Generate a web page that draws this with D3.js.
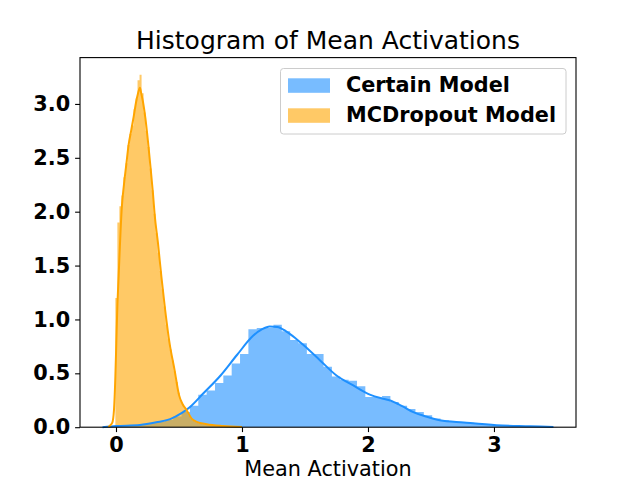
<!DOCTYPE html>
<html>
<head>
<meta charset="utf-8">
<script src="https://cdn.jsdelivr.net/npm/d3@7"></script>
<style>
  body { margin: 0; background: #fff; }
  svg text { font-family: "DejaVu Sans", sans-serif; }
</style>
</head>
<body>
<svg id="chart" width="640" height="480"></svg>
<script>
// histogram of "Certain Model" (bin start, bin width, density per bin)
const certainStart = -0.01;
const certainWidth = 0.0663;
const certainHist = [
  0.01, 0.015, 0.02, 0.03, 0.04, 0.05, 0.07, 0.10, 0.14, 0.20,
  0.30, 0.34, 0.41, 0.48, 0.59, 0.68, 0.91, 0.92, 0.92, 0.95,
  0.89, 0.81, 0.78, 0.68, 0.68, 0.56, 0.47, 0.44, 0.43, 0.38,
  0.28, 0.28, 0.29, 0.235, 0.20, 0.17, 0.14, 0.11, 0.08, 0.065,
  0.055, 0.048, 0.042, 0.035, 0.028, 0.02, 0.017, 0.013, 0.01, 0.008,
  0.006, 0.004, 0.003
];

// histogram of "MCDropout Model"
const dropoutStart = -0.005;
const dropoutWidth = 0.016;
const dropoutHist = [
  1.20, 1.90, 2.05, 2.15, 2.32, 2.45, 2.62, 2.72, 2.80, 2.95,
  3.05, 3.22, 3.27, 3.10, 2.92, 2.75, 2.60, 2.40, 2.20, 1.98,
  1.80, 1.62, 1.45, 1.28, 1.12, 0.95, 0.82, 0.72, 0.62, 0.52,
  0.42, 0.32, 0.25, 0.21, 0.18, 0.15, 0.11, 0.08, 0.06, 0.05,
  0.04, 0.035, 0.03, 0.028, 0.025, 0.022, 0.02, 0.018, 0.016, 0.015,
  0.013, 0.012, 0.011, 0.01, 0.008, 0.007, 0.006, 0.005, 0.004, 0.003
];

// kde curves [x, density]
const certainKde = [
  [-0.107, 0.0], [0.0, 0.01], [0.19, 0.02], [0.32, 0.045], [0.43, 0.075],
  [0.52, 0.13], [0.59, 0.19], [0.69, 0.31], [0.83, 0.48], [0.96, 0.67],
  [1.09, 0.85], [1.16, 0.91], [1.22, 0.935], [1.28, 0.93], [1.35, 0.89],
  [1.42, 0.83], [1.49, 0.76], [1.62, 0.62], [1.75, 0.48], [1.88, 0.39],
  [2.02, 0.30], [2.10, 0.27], [2.17, 0.25], [2.28, 0.19], [2.36, 0.14],
  [2.46, 0.10], [2.57, 0.065], [2.76, 0.044], [3.02, 0.019], [3.29, 0.009],
  [3.472, 0.002]
];
const dropoutKde = [
  [-0.06, 0.0], [-0.053, 0.01], [-0.03, 0.04], [-0.016, 0.16], [-0.005, 0.47],
  [0.0025, 0.78], [0.01, 1.09], [0.021, 1.40], [0.032, 1.71], [0.045, 2.02],
  [0.063, 2.25], [0.082, 2.44], [0.10, 2.62], [0.12, 2.75], [0.14, 2.88],
  [0.16, 3.02], [0.175, 3.10], [0.19, 3.15], [0.20, 3.10], [0.214, 3.02],
  [0.233, 2.87], [0.254, 2.65], [0.275, 2.40], [0.294, 2.16], [0.307, 1.97],
  [0.333, 1.71], [0.36, 1.40], [0.39, 1.09], [0.425, 0.78], [0.465, 0.53],
  [0.50, 0.30], [0.53, 0.21], [0.56, 0.16], [0.60, 0.08], [0.64, 0.05],
  [0.72, 0.028], [0.85, 0.012], [1.0, 0.003]
];

const xTicks = [0, 1, 2, 3];
const yTicks = [0.0, 0.5, 1.0, 1.5, 2.0, 2.5, 3.0];
const seriesNames = ["Certain Model", "MCDropout Model"];

const svg = d3.select("#chart");
const plotLeft = 80, plotRight = 576, plotTop = 57.6, plotBottom = 427.2;

let x = d3.scaleLinear().domain([-0.2857, 3.651]).range([plotLeft, plotRight]);
let y = d3.scaleLinear().domain([0, 3.43]).range([plotBottom, plotTop]);

const blue = "#1e90ff", orange = "#ffa500";

// draw one histogram as a single stepped area (no seams between bars)
function drawHist(values, start, width, color) {
    let steps = values.map((v, i) => [start + i * width, v]);
    steps.push([start + values.length * width, values[values.length - 1]]);
    let area = d3.area()
        .x(d => x(d[0]))
        .y0(y(0))
        .y1(d => y(d[1]))
        .curve(d3.curveStepAfter);
    svg.append("path")
       .attr("d", area(steps))
       .attr("fill", color)
       .attr("fill-opacity", 0.6);
}

drawHist(certainHist, certainStart, certainWidth, blue);
drawHist(dropoutHist, dropoutStart, dropoutWidth, orange);

let line = d3.line()
    .x(d => x(d[0]))
    .y(d => y(d[1]))
    .curve(d3.curveMonotoneX);

svg.append("path").attr("d", line(certainKde))
   .attr("fill", "none").attr("stroke", blue).attr("stroke-width", 2);
svg.append("path").attr("d", line(dropoutKde))
   .attr("fill", "none").attr("stroke", orange).attr("stroke-width", 2);

// axes
let xAxis = svg.append("g")
    .attr("transform", `translate(0,${plotBottom})`)
    .call(d3.axisBottom(x).tickValues(xTicks).tickFormat(d3.format("d")).tickSizeInner(4.9).tickSizeOuter(0).tickPadding(4.9));
let yAxis = svg.append("g")
    .attr("transform", `translate(${plotLeft},0)`)
    .call(d3.axisLeft(y).tickValues(yTicks).tickFormat(d3.format(".1f")).tickSizeInner(4.9).tickSizeOuter(0).tickPadding(4.9));

[xAxis, yAxis].forEach(a => {
    a.select(".domain").remove();
    a.selectAll("line").attr("stroke", "#000").attr("stroke-width", 1.1);
    a.selectAll("text")
     .attr("font-family", "DejaVu Sans")
     .attr("font-size", 20.8)
     .attr("font-weight", "bold")
     .attr("fill", "#000");
});

// frame
svg.append("rect")
   .attr("x", plotLeft).attr("y", plotTop)
   .attr("width", plotRight - plotLeft).attr("height", plotBottom - plotTop)
   .attr("fill", "none").attr("stroke", "#000").attr("stroke-width", 1.1);

// title and x label
svg.append("text")
   .attr("x", (plotLeft + plotRight) / 2).attr("y", 49.3)
   .attr("text-anchor", "middle")
   .attr("font-size", 25)
   .text("Histogram of Mean Activations");

svg.append("text")
   .attr("x", (plotLeft + plotRight) / 2).attr("y", 476)
   .attr("text-anchor", "middle")
   .attr("font-size", 20.8)
   .text("Mean Activation");

// legend
let legend = svg.append("g");
legend.append("rect")
   .attr("x", 280.5).attr("y", 68.5)
   .attr("width", 285.5).attr("height", 65.5)
   .attr("rx", 3)
   .attr("fill", "#fff").attr("fill-opacity", 0.8)
   .attr("stroke", "#ccc").attr("stroke-width", 1);

[blue, orange].forEach((c, i) => {
    legend.append("rect")
       .attr("x", 288).attr("y", 78.3 + i * 30)
       .attr("width", 42).attr("height", 14.5)
       .attr("fill", c).attr("fill-opacity", 0.6);
    legend.append("text")
       .attr("x", 346).attr("y", 92.3 + i * 30)
       .attr("font-size", 20.8)
       .attr("font-weight", "bold")
       .text(seriesNames[i]);
});
</script>
</body>
</html>
